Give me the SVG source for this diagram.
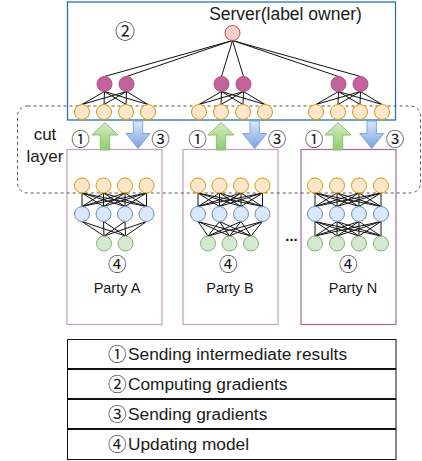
<svg xmlns="http://www.w3.org/2000/svg" width="422" height="461" viewBox="0 0 422 461">
<style>
text{font-family:"Liberation Sans","Noto Sans CJK SC",sans-serif;fill:#1a1a1a}
.num{font-family:"Noto Sans CJK SC","Liberation Sans",sans-serif;font-size:18.5px;text-anchor:middle}
.box{fill:none}
.srv{stroke:#2572b6;stroke-width:1.3}
.pty{stroke:#c3a0bf;stroke-width:1.2}
.ptyN{stroke:#a8699f;stroke-width:1.2}
.o{fill:#ffe6cc;stroke:#d79b00}
.p{fill:#c4629b;stroke:#b0507e}
.r{fill:#f8cecc;stroke:#b85450}
.b{fill:#dae8fc;stroke:#6c8ebf}
.g{fill:#d5e8d4;stroke:#82b366}
circle{stroke-width:1}
#connectors line{stroke:#111;stroke-width:1}
.lg{fill:#fff;stroke:#111;stroke-width:1}
.lt{font-size:17.3px}
.ln{font-family:"Noto Sans CJK SC","Liberation Sans",sans-serif;font-size:18.5px}
.up{fill:url(#gg);stroke:#8cc26f;stroke-width:1}
.dn{fill:url(#bg);stroke:#7fa5dc;stroke-width:1}
</style>
<defs>
<linearGradient id="gg" x1="0" y1="0" x2="0" y2="1"><stop offset="0" stop-color="#d5ecc8"/><stop offset="1" stop-color="#8fcd6c"/></linearGradient>
<linearGradient id="bg" x1="0" y1="0" x2="0" y2="1"><stop offset="0" stop-color="#dae8fc"/><stop offset="1" stop-color="#7aa3e0"/></linearGradient>
</defs>

<g id="server"><rect class="box srv" x="67.5" y="2" width="328" height="118"/>
<text x="285.5" y="20" font-size="17.5" text-anchor="middle">Server(label owner)</text>
<text class="num" x="125" y="39" style="font-size:20px">②</text></g>
<g id="partyA"><rect class="box pty" x="67" y="149.5" width="95" height="175"/><text class="num" x="117.3" y="271">④</text><text x="117" y="292.5" font-size="14.5" text-anchor="middle">Party A</text></g>
<g id="partyB"><rect class="box pty" x="183" y="149.5" width="95" height="175"/><text class="num" x="228.3" y="271">④</text><text x="230" y="292.5" font-size="14.5" text-anchor="middle">Party B</text></g>
<g id="partyN"><rect class="box ptyN" x="301" y="149.5" width="95" height="175"/><text class="num" x="348.3" y="271">④</text><text x="353" y="292.5" font-size="14.5" text-anchor="middle">Party N</text></g>
<g id="ellipsis"><text x="291.5" y="241" font-size="15" font-weight="bold" text-anchor="middle">...</text></g>

<g id="cutlayer"><rect x="17.5" y="106" width="403" height="87" rx="10" fill="none" stroke="#555" stroke-width="1" stroke-dasharray="3 3"/>
<text x="45" y="140" font-size="17" text-anchor="middle">cut</text><text x="45" y="161.5" font-size="17" text-anchor="middle">layer</text></g>

<g id="connectors">
<line x1="232.5" y1="40.5" x2="104.5" y2="76.5"/><line x1="232.5" y1="40.5" x2="126.5" y2="76.5"/><line x1="232.5" y1="40.5" x2="221.5" y2="76.5"/><line x1="232.5" y1="40.5" x2="243.5" y2="76.5"/><line x1="232.5" y1="40.5" x2="338.5" y2="76.5"/><line x1="232.5" y1="40.5" x2="360.5" y2="76.5"/>
<line x1="104.5" y1="91.5" x2="82" y2="104.5"/><line x1="104.5" y1="91.5" x2="104" y2="104.5"/><line x1="104.5" y1="91.5" x2="126" y2="104.5"/><line x1="104.5" y1="91.5" x2="148" y2="104.5"/>
<line x1="126.5" y1="91.5" x2="82" y2="104.5"/><line x1="126.5" y1="91.5" x2="104" y2="104.5"/><line x1="126.5" y1="91.5" x2="126" y2="104.5"/><line x1="126.5" y1="91.5" x2="148" y2="104.5"/>
<line x1="221.5" y1="91.5" x2="199" y2="104.5"/><line x1="221.5" y1="91.5" x2="221" y2="104.5"/><line x1="221.5" y1="91.5" x2="243" y2="104.5"/><line x1="221.5" y1="91.5" x2="265" y2="104.5"/>
<line x1="243.5" y1="91.5" x2="199" y2="104.5"/><line x1="243.5" y1="91.5" x2="221" y2="104.5"/><line x1="243.5" y1="91.5" x2="243" y2="104.5"/><line x1="243.5" y1="91.5" x2="265" y2="104.5"/>
<line x1="338.5" y1="91.5" x2="316" y2="104.5"/><line x1="338.5" y1="91.5" x2="338" y2="104.5"/><line x1="338.5" y1="91.5" x2="360" y2="104.5"/><line x1="338.5" y1="91.5" x2="382" y2="104.5"/>
<line x1="360.5" y1="91.5" x2="316" y2="104.5"/><line x1="360.5" y1="91.5" x2="338" y2="104.5"/><line x1="360.5" y1="91.5" x2="360" y2="104.5"/><line x1="360.5" y1="91.5" x2="382" y2="104.5"/>

<line x1="82" y1="193" x2="82" y2="206.5"/><line x1="82" y1="193" x2="103.5" y2="206.5"/><line x1="82" y1="193" x2="125" y2="206.5"/><line x1="82" y1="193" x2="146.5" y2="206.5"/>
<line x1="103.5" y1="193" x2="82" y2="206.5"/><line x1="103.5" y1="193" x2="103.5" y2="206.5"/><line x1="103.5" y1="193" x2="125" y2="206.5"/><line x1="103.5" y1="193" x2="146.5" y2="206.5"/>
<line x1="125" y1="193" x2="82" y2="206.5"/><line x1="125" y1="193" x2="103.5" y2="206.5"/><line x1="125" y1="193" x2="125" y2="206.5"/><line x1="125" y1="193" x2="146.5" y2="206.5"/>
<line x1="146.5" y1="193" x2="82" y2="206.5"/><line x1="146.5" y1="193" x2="103.5" y2="206.5"/><line x1="146.5" y1="193" x2="125" y2="206.5"/><line x1="146.5" y1="193" x2="146.5" y2="206.5"/>
<line x1="82" y1="221.5" x2="104" y2="236"/><line x1="82" y1="221.5" x2="125.5" y2="236"/><line x1="103.5" y1="221.5" x2="104" y2="236"/><line x1="103.5" y1="221.5" x2="125.5" y2="236"/>
<line x1="125" y1="221.5" x2="104" y2="236"/><line x1="125" y1="221.5" x2="125.5" y2="236"/><line x1="146.5" y1="221.5" x2="104" y2="236"/><line x1="146.5" y1="221.5" x2="125.5" y2="236"/>

<line x1="198" y1="193" x2="198" y2="206.5"/><line x1="198" y1="193" x2="219.5" y2="206.5"/><line x1="198" y1="193" x2="241" y2="206.5"/><line x1="198" y1="193" x2="262.5" y2="206.5"/>
<line x1="219.5" y1="193" x2="198" y2="206.5"/><line x1="219.5" y1="193" x2="219.5" y2="206.5"/><line x1="219.5" y1="193" x2="241" y2="206.5"/><line x1="219.5" y1="193" x2="262.5" y2="206.5"/>
<line x1="241" y1="193" x2="198" y2="206.5"/><line x1="241" y1="193" x2="219.5" y2="206.5"/><line x1="241" y1="193" x2="241" y2="206.5"/><line x1="241" y1="193" x2="262.5" y2="206.5"/>
<line x1="262.5" y1="193" x2="198" y2="206.5"/><line x1="262.5" y1="193" x2="219.5" y2="206.5"/><line x1="262.5" y1="193" x2="241" y2="206.5"/><line x1="262.5" y1="193" x2="262.5" y2="206.5"/>
<line x1="198" y1="221.5" x2="208" y2="236"/><line x1="198" y1="221.5" x2="229.5" y2="236"/><line x1="198" y1="221.5" x2="251" y2="236"/>
<line x1="219.5" y1="221.5" x2="208" y2="236"/><line x1="219.5" y1="221.5" x2="229.5" y2="236"/><line x1="219.5" y1="221.5" x2="251" y2="236"/>
<line x1="241" y1="221.5" x2="208" y2="236"/><line x1="241" y1="221.5" x2="229.5" y2="236"/><line x1="241" y1="221.5" x2="251" y2="236"/>
<line x1="262.5" y1="221.5" x2="208" y2="236"/><line x1="262.5" y1="221.5" x2="229.5" y2="236"/><line x1="262.5" y1="221.5" x2="251" y2="236"/>

<line x1="315" y1="193" x2="315" y2="206.5"/><line x1="315" y1="193" x2="337" y2="206.5"/><line x1="315" y1="193" x2="359" y2="206.5"/><line x1="315" y1="193" x2="381" y2="206.5"/>
<line x1="337" y1="193" x2="315" y2="206.5"/><line x1="337" y1="193" x2="337" y2="206.5"/><line x1="337" y1="193" x2="359" y2="206.5"/><line x1="337" y1="193" x2="381" y2="206.5"/>
<line x1="359" y1="193" x2="315" y2="206.5"/><line x1="359" y1="193" x2="337" y2="206.5"/><line x1="359" y1="193" x2="359" y2="206.5"/><line x1="359" y1="193" x2="381" y2="206.5"/>
<line x1="381" y1="193" x2="315" y2="206.5"/><line x1="381" y1="193" x2="337" y2="206.5"/><line x1="381" y1="193" x2="359" y2="206.5"/><line x1="381" y1="193" x2="381" y2="206.5"/>
<line x1="315" y1="221.5" x2="315" y2="236"/><line x1="315" y1="221.5" x2="337" y2="236"/><line x1="315" y1="221.5" x2="359" y2="236"/><line x1="315" y1="221.5" x2="381" y2="236"/>
<line x1="337" y1="221.5" x2="315" y2="236"/><line x1="337" y1="221.5" x2="337" y2="236"/><line x1="337" y1="221.5" x2="359" y2="236"/><line x1="337" y1="221.5" x2="381" y2="236"/>
<line x1="359" y1="221.5" x2="315" y2="236"/><line x1="359" y1="221.5" x2="337" y2="236"/><line x1="359" y1="221.5" x2="359" y2="236"/><line x1="359" y1="221.5" x2="381" y2="236"/>
<line x1="381" y1="221.5" x2="315" y2="236"/><line x1="381" y1="221.5" x2="337" y2="236"/><line x1="381" y1="221.5" x2="359" y2="236"/><line x1="381" y1="221.5" x2="381" y2="236"/>
</g>

<g id="root"><circle class="r" cx="232.5" cy="33" r="7.5"/></g>
<g id="s-p1"><circle class="p" cx="104.5" cy="84" r="7.5"/></g>
<g id="s-p2"><circle class="p" cx="126.5" cy="84" r="7.5"/></g>
<g id="s-p3"><circle class="p" cx="221.5" cy="84" r="7.5"/></g>
<g id="s-p4"><circle class="p" cx="243.5" cy="84" r="7.5"/></g>
<g id="s-p5"><circle class="p" cx="338.5" cy="84" r="7.5"/></g>
<g id="s-p6"><circle class="p" cx="360.5" cy="84" r="7.5"/></g>
<g id="s-o1"><circle class="o" cx="82" cy="112" r="7.5"/></g>
<g id="s-o2"><circle class="o" cx="104" cy="112" r="7.5"/></g>
<g id="s-o3"><circle class="o" cx="126" cy="112" r="7.5"/></g>
<g id="s-o4"><circle class="o" cx="148" cy="112" r="7.5"/></g>
<g id="s-o5"><circle class="o" cx="199" cy="112" r="7.5"/></g>
<g id="s-o6"><circle class="o" cx="221" cy="112" r="7.5"/></g>
<g id="s-o7"><circle class="o" cx="243" cy="112" r="7.5"/></g>
<g id="s-o8"><circle class="o" cx="265" cy="112" r="7.5"/></g>
<g id="s-o9"><circle class="o" cx="316" cy="112" r="7.5"/></g>
<g id="s-o10"><circle class="o" cx="338" cy="112" r="7.5"/></g>
<g id="s-o11"><circle class="o" cx="360" cy="112" r="7.5"/></g>
<g id="s-o12"><circle class="o" cx="382" cy="112" r="7.5"/></g>

<g id="a-o1"><circle class="o" cx="82" cy="185.5" r="7.5"/></g>
<g id="a-o2"><circle class="o" cx="103.5" cy="185.5" r="7.5"/></g>
<g id="a-o3"><circle class="o" cx="125" cy="185.5" r="7.5"/></g>
<g id="a-o4"><circle class="o" cx="146.5" cy="185.5" r="7.5"/></g>
<g id="a-b1"><circle class="b" cx="82" cy="214" r="7.5"/></g>
<g id="a-b2"><circle class="b" cx="103.5" cy="214" r="7.5"/></g>
<g id="a-b3"><circle class="b" cx="125" cy="214" r="7.5"/></g>
<g id="a-b4"><circle class="b" cx="146.5" cy="214" r="7.5"/></g>
<g id="a-g1"><circle class="g" cx="104" cy="243.5" r="7.5"/></g>
<g id="a-g2"><circle class="g" cx="125.5" cy="243.5" r="7.5"/></g>

<g id="b-o1"><circle class="o" cx="198" cy="185.5" r="7.5"/></g>
<g id="b-o2"><circle class="o" cx="219.5" cy="185.5" r="7.5"/></g>
<g id="b-o3"><circle class="o" cx="241" cy="185.5" r="7.5"/></g>
<g id="b-o4"><circle class="o" cx="262.5" cy="185.5" r="7.5"/></g>
<g id="b-b1"><circle class="b" cx="198" cy="214" r="7.5"/></g>
<g id="b-b2"><circle class="b" cx="219.5" cy="214" r="7.5"/></g>
<g id="b-b3"><circle class="b" cx="241" cy="214" r="7.5"/></g>
<g id="b-b4"><circle class="b" cx="262.5" cy="214" r="7.5"/></g>
<g id="b-g1"><circle class="g" cx="208" cy="243.5" r="7.5"/></g>
<g id="b-g2"><circle class="g" cx="229.5" cy="243.5" r="7.5"/></g>
<g id="b-g3"><circle class="g" cx="251" cy="243.5" r="7.5"/></g>

<g id="n-o1"><circle class="o" cx="315" cy="185.5" r="7.5"/></g>
<g id="n-o2"><circle class="o" cx="337" cy="185.5" r="7.5"/></g>
<g id="n-o3"><circle class="o" cx="359" cy="185.5" r="7.5"/></g>
<g id="n-o4"><circle class="o" cx="381" cy="185.5" r="7.5"/></g>
<g id="n-b1"><circle class="b" cx="315" cy="214" r="7.5"/></g>
<g id="n-b2"><circle class="b" cx="337" cy="214" r="7.5"/></g>
<g id="n-b3"><circle class="b" cx="359" cy="214" r="7.5"/></g>
<g id="n-b4"><circle class="b" cx="381" cy="214" r="7.5"/></g>
<g id="n-g1"><circle class="g" cx="315" cy="243.5" r="7.5"/></g>
<g id="n-g2"><circle class="g" cx="337" cy="243.5" r="7.5"/></g>
<g id="n-g3"><circle class="g" cx="359" cy="243.5" r="7.5"/></g>
<g id="n-g4"><circle class="g" cx="381" cy="243.5" r="7.5"/></g>

<g id="arrowsA"><path class="up" d="M105 122.5 L118 135 L109.7 135 L109.7 150 L100.3 150 L100.3 135 L92 135 Z"/>
<path class="dn" d="M133.3 121 L142.7 121 L142.7 133.5 L150 133.5 L138 148.5 L126 133.5 L133.3 133.5 Z"/>
<text class="num" x="80.5" y="146">①</text><text class="num" x="160.5" y="146">③</text></g>
<g id="arrowsB"><path class="up" d="M221 122.5 L234 135 L225.7 135 L225.7 150 L216.3 150 L216.3 135 L208 135 Z"/>
<path class="dn" d="M250 121 L259.4 121 L259.4 133.5 L266.7 133.5 L254.7 148.5 L242.7 133.5 L250 133.5 Z"/>
<text class="num" x="197.5" y="146">①</text><text class="num" x="277" y="146">③</text></g>
<g id="arrowsN"><path class="up" d="M338 122.5 L351 135 L342.7 135 L342.7 150 L333.3 150 L333.3 135 L325 135 Z"/>
<path class="dn" d="M367 121 L376.4 121 L376.4 133.5 L383.7 133.5 L371.7 148.5 L359.7 133.5 L367 133.5 Z"/>
<text class="num" x="314" y="146">①</text><text class="num" x="395" y="146">③</text></g>

<g id="legend1"><rect class="lg" x="67.5" y="339.5" width="328.5" height="29"/><text class="lt"><tspan class="ln" x="108" y="361">①</tspan><tspan x="128" y="360">Sending intermediate results</tspan></text></g>
<g id="legend2"><rect class="lg" x="67.5" y="369.5" width="328.5" height="29"/><text class="lt"><tspan class="ln" x="108" y="391">②</tspan><tspan x="128" y="390">Computing gradients</tspan></text></g>
<g id="legend3"><rect class="lg" x="67.5" y="399.5" width="328.5" height="29"/><text class="lt"><tspan class="ln" x="108" y="421">③</tspan><tspan x="128" y="420">Sending gradients</tspan></text></g>
<g id="legend4"><rect class="lg" x="67.5" y="429.5" width="328.5" height="30"/><text class="lt"><tspan class="ln" x="108" y="450.5">④</tspan><tspan x="128" y="449.5">Updating model</tspan></text></g>
</svg>
